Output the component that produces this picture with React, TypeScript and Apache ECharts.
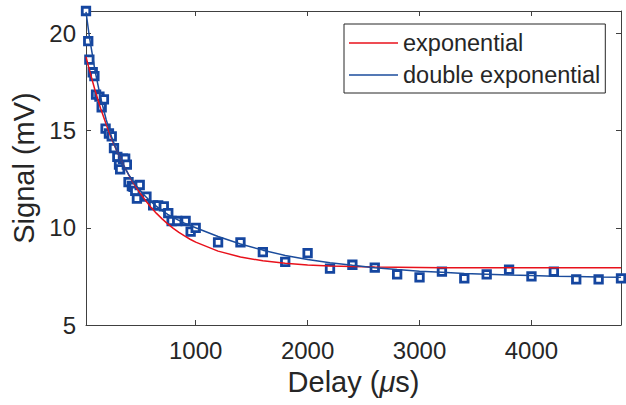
import React, { useEffect, useRef } from "react";
import * as echarts from "echarts";

// Measured data: delay (µs) and signal (mV)
const delays = [20, 40, 50, 80, 95, 110, 140, 160, 180, 195, 225, 250, 270, 300, 315, 325, 350, 370, 385, 400, 430, 445, 460, 475, 500, 560, 620, 665, 715, 755, 785, 835, 910, 955, 1000, 1200, 1400, 1600, 1800, 2000, 2200, 2400, 2600, 2800, 3000, 3200, 3400, 3600, 3800, 4000, 4200, 4400, 4600, 4800];
const signals = [21.15, 19.6, 18.65, 18.0, 17.8, 16.85, 16.75, 16.2, 16.6, 15.1, 14.85, 14.7, 14.1, 13.65, 13.25, 13.0, 13.55, 13.55, 13.25, 12.35, 12.15, 12.1, 11.9, 11.5, 12.2, 11.6, 11.15, 11.15, 11.1, 10.75, 10.35, 10.35, 10.35, 9.8, 10.0, 9.25, 9.25, 8.75, 8.25, 8.7, 7.9, 8.1, 7.95, 7.6, 7.45, 7.75, 7.4, 7.6, 7.85, 7.5, 7.75, 7.35, 7.35, 7.4];

// Fit curves
const fitX = [20, 50, 100, 150, 200, 250, 300, 350, 400, 450, 500, 550, 600, 650, 700, 750, 800, 850, 900, 950, 1000, 1200, 1400, 1600, 1800, 2000, 2200, 2400, 2600, 2800, 3000, 3200, 3400, 3600, 3800, 4000, 4200, 4400, 4600, 4800];
const expFit = [18.8, 18.12, 17.09, 16.15, 15.32, 14.56, 13.89, 13.28, 12.74, 12.25, 11.81, 11.42, 11.06, 10.74, 10.46, 10.2, 9.97, 9.76, 9.58, 9.41, 9.26, 8.8, 8.5, 8.3, 8.18, 8.09, 8.04, 8.01, 7.98, 7.97, 7.96, 7.95, 7.95, 7.94, 7.94, 7.94, 7.94, 7.94, 7.94, 7.94];
const doubleExpFit = [21.1, 19.83, 18.1, 16.7, 15.57, 14.65, 13.89, 13.27, 12.75, 12.31, 11.94, 11.62, 11.34, 11.1, 10.88, 10.69, 10.52, 10.38, 10.24, 10.12, 10.0, 9.55, 9.17, 8.85, 8.58, 8.37, 8.2, 8.07, 7.95, 7.85, 7.77, 7.71, 7.65, 7.61, 7.57, 7.54, 7.51, 7.49, 7.47, 7.46];

const yMin = 5;
const xMin = 20;
const xMax = 4800;
const yMax = 21.15;

const FONT = "'Liberation Sans', Arial, sans-serif";
const TXT = "#262626";
const AX = "#404040";

export default function App() {
  const ref = useRef<HTMLDivElement>(null);
  useEffect(() => {
    if (!ref.current) return;
    const chart = echarts.init(ref.current, undefined, { renderer: "svg" });
    const axisCommon = {
      axisLine: { show: true, onZero: false, lineStyle: { color: AX, width: 1 } },
      axisTick: { show: true, inside: true, length: 5, lineStyle: { color: AX } },
      splitLine: { show: false },
    };
    chart.setOption({
      animation: false,
      backgroundColor: "#fff",
      textStyle: { fontFamily: FONT },
      grid: { left: 86, right: 5, top: 11, bottom: 80, containLabel: false },
      legend: {
        data: ["exponential", "double exponential"],
        orient: "vertical",
        left: 344,
        top: 24,
        icon: "rect",
        itemWidth: 49,
        itemHeight: 1.5,
        itemGap: 6,
        padding: [6, 5, 5, 5],
        borderColor: "#262626",
        borderWidth: 1,
        backgroundColor: "#fff",
        textStyle: { fontSize: 23.5, color: TXT, fontFamily: FONT, lineHeight: 26 },
      },
      xAxis: [
        {
          type: "value",
          min: xMin,
          max: xMax,
          splitNumber: 5,
          position: "bottom",
          ...axisCommon,
          axisLabel: {
            showMinLabel: false,
            showMaxLabel: false,
            fontSize: 24,
            color: TXT,
            margin: 13,
            fontFamily: FONT,
            formatter: (v: number) => String(v),
          },
          name: "Delay ({i|μ}s)",
          nameLocation: "middle",
          nameGap: 42,
          nameTextStyle: {
            fontSize: 29,
            color: TXT,
            fontFamily: FONT,
            rich: { i: { fontSize: 29, fontStyle: "italic", color: TXT, fontFamily: FONT } },
          },
        },
        {
          type: "value",
          min: xMin,
          max: xMax,
          splitNumber: 5,
          position: "top",
          ...axisCommon,
          axisLabel: { show: false },
        },
      ],
      yAxis: [
        {
          type: "value",
          min: yMin,
          max: yMax,
          interval: 5,
          position: "left",
          ...axisCommon,
          axisLabel: {
            showMaxLabel: false,
            fontSize: 24,
            color: TXT,
            margin: 10,
            fontFamily: FONT,
            formatter: (v: number) => String(v),
          },
          name: "Signal (mV)",
          nameLocation: "middle",
          nameGap: 44,
          nameTextStyle: { fontSize: 29, color: TXT, fontFamily: FONT },
        },
        {
          type: "value",
          min: yMin,
          max: yMax,
          interval: 5,
          position: "right",
          ...axisCommon,
          axisLabel: { show: false },
        },
      ],
      series: [
        {
          name: "data",
          type: "scatter",
          data: delays.map((d, i) => [d, signals[i]]),
          symbol: "rect",
          symbolSize: 7.5,
          clip: false,
          z: 2,
          itemStyle: { color: "#ffffff", borderColor: "#1546a0", borderWidth: 2.8, opacity: 1 },
        },
        {
          name: "exponential",
          type: "line",
          data: fitX.map((x, i) => [x, expFit[i]]),
          showSymbol: false,
          smooth: false,
          z: 3,
          color: "#e8111b",
          lineStyle: { color: "#e8111b", width: 1.5 },
        },
        {
          name: "double exponential",
          type: "line",
          data: fitX.map((x, i) => [x, doubleExpFit[i]]),
          showSymbol: false,
          smooth: false,
          z: 4,
          color: "#1b4c9c",
          lineStyle: { color: "#1b4c9c", width: 1.5 },
        },
      ],
    });
    return () => chart.dispose();
  }, []);
  return (
    <div
      ref={ref}
      style={{ position: "fixed", left: 0, top: 0, width: 626, height: 405, background: "#fff" }}
    />
  );
}
